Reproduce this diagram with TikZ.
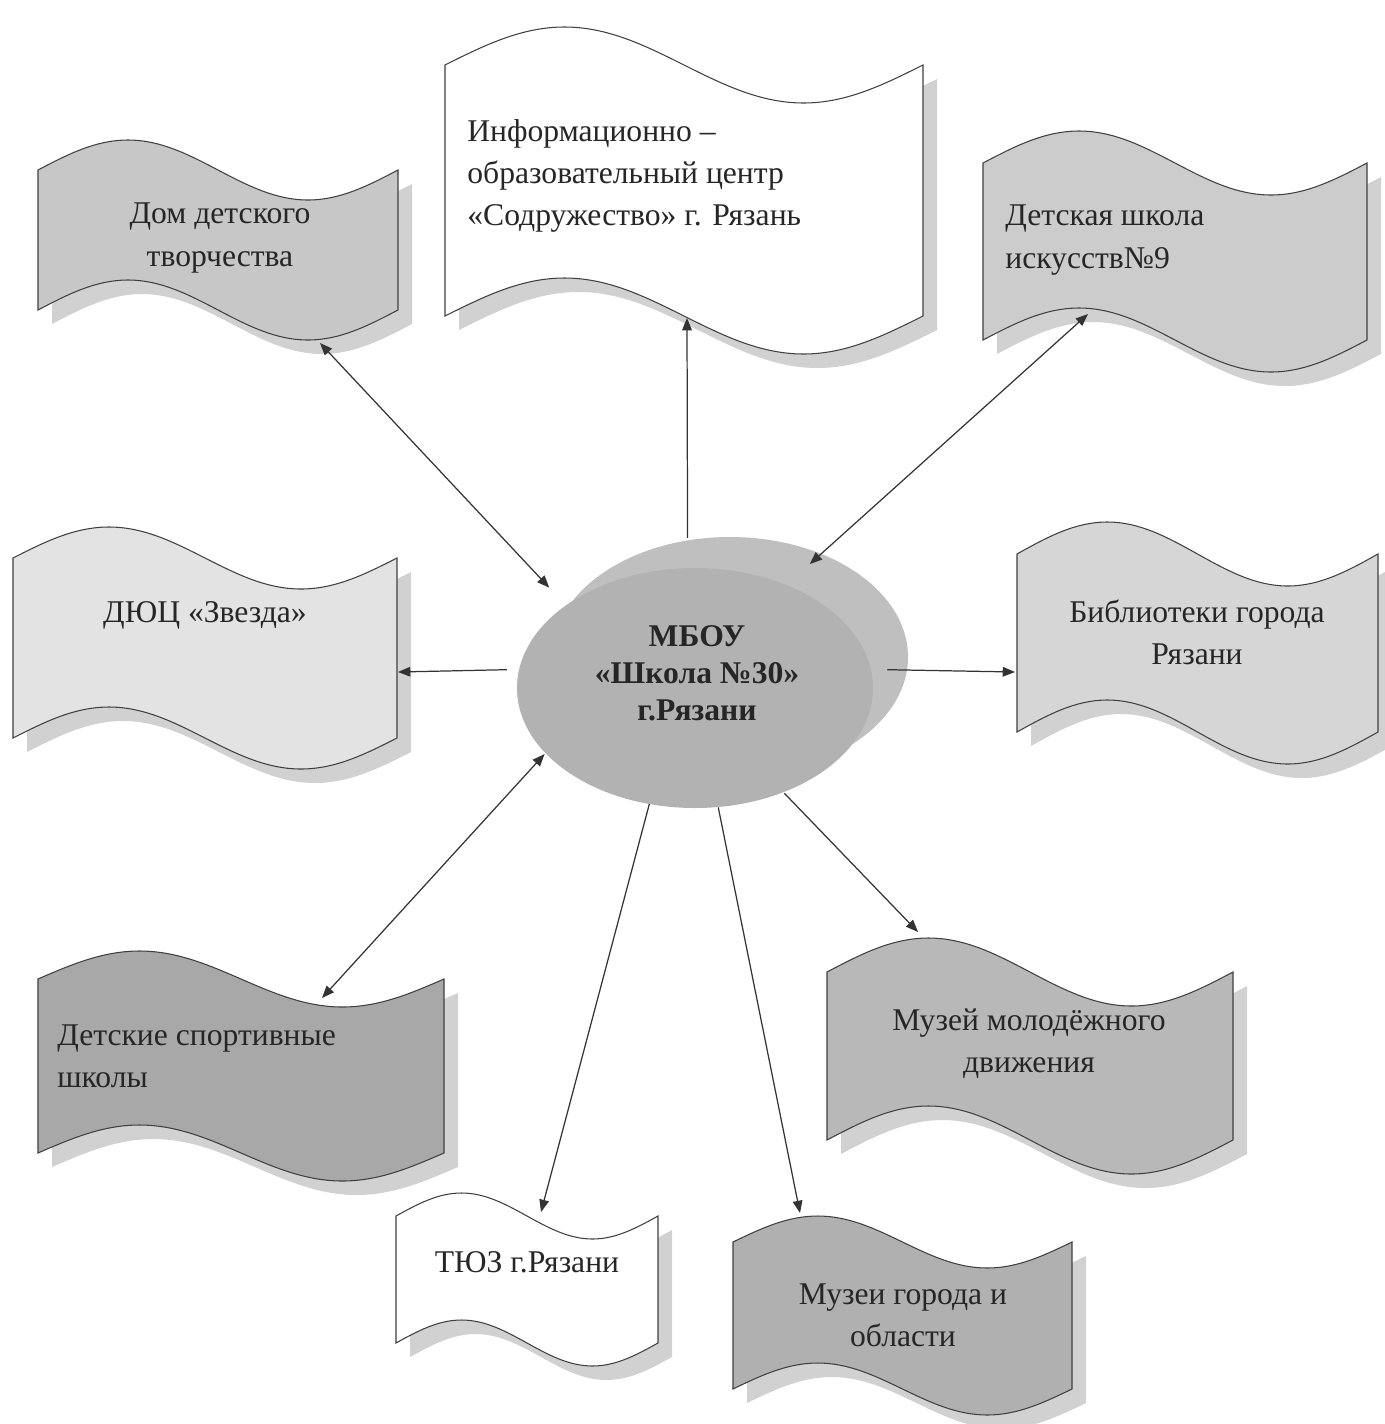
\documentclass[tikz,border=0pt]{standalone}
\usepackage{fontspec}
\setmainfont{Liberation Serif}
\usetikzlibrary{arrows.meta,shapes.geometric}
\definecolor{fillDom}{gray}{0.78}
\definecolor{fillArt}{gray}{0.80}
\definecolor{fillDyuc}{gray}{0.89}
\definecolor{fillLib}{gray}{0.84}
\definecolor{fillSport}{gray}{0.66}
\definecolor{fillYouth}{gray}{0.72}
\definecolor{fillMus}{gray}{0.69}
\definecolor{hubFront}{gray}{0.70}
\definecolor{hubBack}{gray}{0.75}
\definecolor{shade}{gray}{0.82}
\tikzset{%
    banner/.style={draw=black!75, line width=0.6pt},
    bshadow/.style={fill=shade, draw=none},
    btext/.style={font=\fontsize{18}{24}\selectfont, text=black!85, inner sep=0pt},
    hub/.style={ellipse, draw=none, minimum width=7.6cm, minimum height=5.4cm,
        inner sep=0pt, align=center, text=black!85,
        font=\fontsize{18}{21}\selectfont\bfseries},
    link/.style={draw=black!80, line width=0.7pt, -{Triangle[length=7pt,width=5.5pt]}},
    both/.style={link, {Triangle[length=7pt,width=5.5pt]}-{Triangle[length=7pt,width=5.5pt]}}
}
\newcommand{\wavedraw}[6]{%
    \path[#6] (#1,#3) sin ({#1+(#2-#1)/4},{#3-#5}) cos ({(#1+#2)/2},#3)
        sin ({#1+3*(#2-#1)/4},{#3+#5}) cos (#2,#3) -- (#2,#4)
        sin ({#1+3*(#2-#1)/4},{#4+#5}) cos ({(#1+#2)/2},#4)
        sin ({#1+(#2-#1)/4},{#4-#5}) cos (#1,#4) -- cycle;
}
\newcommand{\wave}[6]{%
    \wavedraw{#1}{#2}{#3}{#4}{#5}{bshadow, shift={(14,14)}}
    \wavedraw{#1}{#2}{#3}{#4}{#5}{banner, fill=#6}
}

\begin{document}
\begin{tikzpicture}[x=0.02cm, y=-0.02cm]
    \useasboundingbox[fill=white] (0,0) rectangle (1384,1424);
    \wave{445}{923}{65}{316}{38}{white}
    \wave{38}{398}{170}{310}{30}{fillDom}
    \wave{983}{1367}{163}{340}{32}{fillArt}
    \wave{13}{397}{558}{738}{31}{fillDyuc}
    \wave{1017}{1378}{554}{732}{32}{fillLib}
    \wave{38}{444}{979}{1153}{28}{fillSport}
    \wave{827}{1233}{972}{1140}{34}{fillYouth}
    \wave{396}{658}{1216}{1343}{23}{white}
    \wave{733}{1072}{1242}{1389}{26}{fillMus}
    \fill[hubBack] (730,657) ellipse [x radius=178, y radius=120];
    \fill[hubFront] (695,688) ellipse [x radius=178, y radius=120];
    \node[hub] (school) at (697,673) {МБОУ\\«Школа №30»\\г.Рязани};
    \node[btext, anchor=west, align=left] (info) at (467,176)
        {Информационно –\\образовательный центр\\«Содружество» г. Рязань};
    \node[btext, align=center] (dom) at (220,238) {Дом детского\\творчества};
    \node[btext, anchor=west, align=left] (art) at (1005,240) {Детская школа\\искусств№9};
    \node[btext] (dyuc) at (205,615) {ДЮЦ «Звезда»};
    \node[btext, align=center] (lib) at (1197,632) {Библиотеки города\\Рязани};
    \node[btext, anchor=west, align=left] (sport) at (57,1056) {Детские спортивные\\школы};
    \node[btext, align=center] (youth) at (1029,1044) {Музей молодёжного\\движения};
    \node[btext] (tyuz) at (527,1262) {ТЮЗ г.Рязани};
    \node[btext, align=center] (mus) at (903,1315) {Музеи города и\\области};
    \coordinate (info-in) at (687,318);
    \coordinate (dom-in) at (320,343);
    \coordinate (art-in) at (1088,314);
    \coordinate (dyuc-in) at (398,672);
    \coordinate (lib-in) at (1015,672);
    \coordinate (sport-in) at (322,998);
    \coordinate (tyuz-in) at (541,1212);
    \coordinate (mus-in) at (800,1213);
    \coordinate (youth-in) at (918,932);
    \foreach \a/\t/\s in {94/info-in/link, 150/dom-in/both, 44/art-in/both,
        179/dyuc-in/link, 1/lib-in/link, 208/sport-in/both,
        250/tyuz-in/link, 279/mus-in/link, 306/youth-in/link}
    {
    \draw[\s] (school.\a) -- (\t);
    }
\end{tikzpicture}
\end{document}
